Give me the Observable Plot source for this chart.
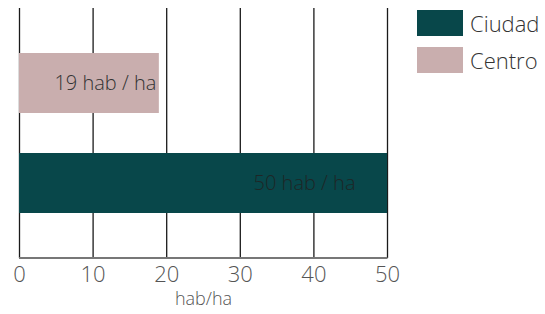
<!DOCTYPE html>
<html><head><meta charset="utf-8">
<script src="https://cdn.jsdelivr.net/npm/d3@7"></script>
<script src="https://cdn.jsdelivr.net/npm/@observablehq/plot@0.6"></script>
<style>
body{margin:0;background:#fff;font-family:"Open Sans",sans-serif;}
#wrap{position:relative;width:545px;height:314px;}
.leg{position:absolute;left:417px;display:flex;align-items:center;font-size:22px;font-weight:300;color:#333;}
.leg span.sw{display:inline-block;width:46px;height:26px;margin-right:7px;}
</style></head>
<body><div id="wrap"></div>
<script>
const categories = ["Centro", "Ciudad"];
const values = [19, 50];
const labels = ["19 hab / ha", "50 hab / ha"];
const colors = ["#c9aeae", "#08474a"];
const xTicks = [0, 10, 20, 30, 40, 50];
const xLabel = "hab/ha";

const data = categories.map((c, i) => ({cat: c, v: values[i], label: labels[i]}));

const chart = Plot.plot({
  width: 545, height: 314,
  marginLeft: 19, marginRight: 158, marginTop: 8, marginBottom: 56,
  style: {fontFamily: "Open Sans, sans-serif", fontWeight: 300, background: "#fff"},
  x: {domain: [0, 50], ticks: xTicks, label: null},
  y: {domain: categories, paddingInner: 0.4, paddingOuter: 0.45, axis: null},
  color: {domain: categories, range: colors},
  marks: [
    Plot.ruleX(xTicks, {stroke: "#1a1a1a", strokeWidth: 1.3}),
    Plot.barX(data, {x: "v", y: "cat", fill: "cat"}),
    Plot.text(data.filter(d => d.cat === "Centro"), {x: "v", y: "cat", text: "label", textAnchor: "end", dx: -3, fill: "#333", fontSize: 20, fontWeight: 300}),
    Plot.text(data.filter(d => d.cat === "Ciudad"), {x: "v", y: "cat", text: "label", textAnchor: "end", dx: -32, fill: "#1e2626", fontSize: 20, fontWeight: 300}),
    Plot.axisX({ticks: xTicks, tickSize: 0, tickPadding: 8, fontSize: 22, fill: "#555", label: null}),
    Plot.text([xLabel], {frameAnchor: "bottom", dy: 46, fontSize: 18, fill: "#555", fontWeight: 300})
  ]
});
document.getElementById("wrap").appendChild(chart);
// bottom axis line
const svg = d3.select(chart);
svg.append("line").attr("x1", 19).attr("x2", 387.5).attr("y1", 258).attr("y2", 258).attr("stroke", "#777").attr("stroke-width", 2);

const wrap = document.getElementById("wrap");
const legendItems = ["Ciudad", "Centro"];
const legendTops = [8, 45];
legendItems.forEach((name, i) => {
  const d = document.createElement("div");
  d.className = "leg";
  d.style.top = legendTops[i] + "px";
  d.innerHTML = `<span class="sw" style="background:${colors[categories.indexOf(name)]}"></span>${name}`;
  wrap.appendChild(d);
});
</script></body></html>
